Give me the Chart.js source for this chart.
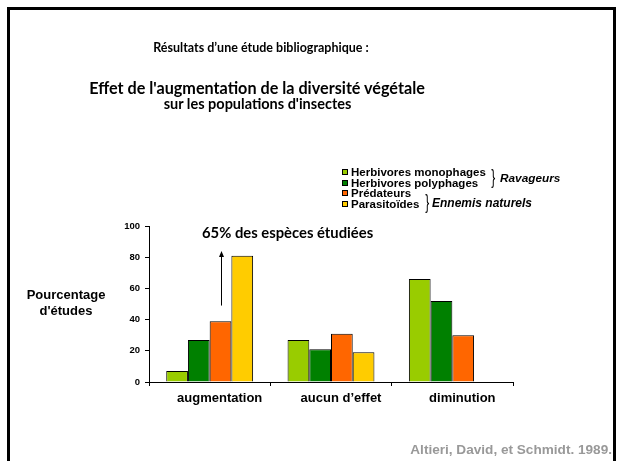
<!DOCTYPE html>
<html>
<head>
<meta charset="utf-8">
<script src="https://cdn.jsdelivr.net/npm/chart.js@4"></script>
<style>
  body { margin: 0; width: 617px; height: 461px; overflow: hidden; background: #fff; position: relative; }
  #frame { position: absolute; left: 7px; top: 7px; width: 609px; height: 480px; box-sizing: border-box; border: 3px solid #000; }
  canvas { position: absolute; left: 0; top: 0; }
  .t { position: absolute; white-space: nowrap; color: #000; }
  .comic { font-family: Lato, sans-serif; font-weight: bold; }
  .arial { font-family: "Liberation Sans", Arial, sans-serif; font-weight: bold; }
  #legend { position: absolute; left: 342px; top: 167px; font-size: 11.5px; line-height: 10.5px; }
  #legend .sw { display: inline-block; width: 4px; height: 4px; border: 1px solid #000; margin-right: 3px; vertical-align: 1px; }
  .brace { position: absolute; font-family: "Liberation Sans", sans-serif; font-weight: normal; font-size: 20px; line-height: 20px; transform: scaleX(0.6); }
</style>
</head>
<body>
<div id="frame"></div>
<canvas id="myChart" width="617" height="461"></canvas>

<div class="t comic" style="left:0;width:522px;text-align:center;top:40px;font-size:12.5px;line-height:16px;">Résultats d’une étude bibliographique :</div>
<div class="t comic" style="left:0;width:514px;text-align:center;top:78px;font-size:16.2px;line-height:20px;">Effet de l'augmentation de la diversité végétale</div>
<div class="t comic" style="left:0;width:515px;text-align:center;top:95px;font-size:14.5px;line-height:18px;">sur les populations d'insectes</div>

<div id="legend" class="t arial"></div>
<div class="brace" style="left:490px;top:167px;">}</div>
<div class="t arial" style="left:500px;top:171px;font-size:11.8px;font-style:italic;">Ravageurs</div>
<div class="brace" style="left:424px;top:192px;">}</div>
<div class="t arial" style="left:432px;top:196px;font-size:12px;font-style:italic;">Ennemis naturels</div>

<div class="t comic" style="left:202px;top:223px;font-size:14.8px;line-height:18px;">65% des espèces étudiées</div>

<div class="t arial" style="left:16px;width:100px;text-align:center;top:287px;font-size:13px;line-height:16px;">Pourcentage<br>d'études</div>

<div class="t arial" style="right:5px;top:442px;font-size:13.6px;color:#999;">Altieri, David, et Schmidt. 1989.</div>

<script>
const categories = ['augmentation', 'aucun d’effet', 'diminution'];
const seriesNames = ['Herbivores monophages', 'Herbivores polyphages', 'Prédateurs', 'Parasitoïdes'];
const seriesColors = ['#99CC00', '#008000', '#FF6600', '#FFCC00'];
const monophages = [7, 27, 66];
const polyphages = [27, 21, 52];
const predateurs = [39, 31, 30];
const parasitoides = [81, 19, null];
const yTicks = [0, 20, 40, 60, 80, 100];
// arrow over "augmentation", from / to in %
const arrowFrom = 49;
const arrowTo = 84;

const seriesValues = [monophages, polyphages, predateurs, parasitoides];

// legend
const legendEl = document.getElementById('legend');
legendEl.innerHTML = seriesNames.map((n, i) =>
  '<div><span class="sw" style="background:' + seriesColors[i] + '"></span>' + n + '</div>'
).join('');

const arrowPlugin = {
  id: 'arrow',
  afterDatasetsDraw(chart) {
    const c = chart.ctx;
    const bar = chart.getDatasetMeta(2).data[0];
    const y = chart.scales.y;
    const x = Math.round(bar.x) + 0.5;
    const y1 = y.getPixelForValue(arrowFrom);
    const y2 = y.getPixelForValue(arrowTo);
    c.save();
    c.strokeStyle = '#000';
    c.fillStyle = '#000';
    c.lineWidth = 1;
    c.beginPath();
    c.moveTo(x, y1);
    c.lineTo(x, y2 + 5);
    c.stroke();
    c.beginPath();
    c.moveTo(x, y2);
    c.lineTo(x - 2.5, y2 + 6);
    c.lineTo(x + 2.5, y2 + 6);
    c.closePath();
    c.fill();
    c.restore();
  }
};

const tickFont = { family: 'Liberation Sans', weight: 'bold', size: 9.5 };

var myChart = document.getElementById('myChart').getContext('2d');
var newChart = new Chart(myChart, {
  type: 'bar',
  data: {
    labels: categories,
    datasets: seriesNames.map((n, i) => ({
      label: n,
      data: seriesValues[i],
      backgroundColor: seriesColors[i],
      borderColor: '#000',
      borderWidth: 1,
      categoryPercentage: 0.716,
      barPercentage: 1
    }))
  },
  options: {
    responsive: false,
    animation: false,
    layout: { padding: { left: 109, right: 104, top: 226, bottom: 49 } },
    plugins: {
      legend: { display: false },
      tooltip: { enabled: false }
    },
    scales: {
      x: {
        grid: { drawOnChartArea: false, color: '#000', tickLength: 4, offset: true },
        border: { color: '#000', width: 1 },
        ticks: {
          font: { family: 'Liberation Sans', weight: 'bold', size: 13 },
          color: '#000', padding: 5, labelOffset: 10, maxRotation: 0
        },
        afterFit(s) { s.height = 30; }
      },
      y: {
        min: 0,
        max: 100,
        afterBuildTicks(s) { s.ticks = yTicks.map(v => ({ value: v })); },
        grid: { drawOnChartArea: false, color: '#000', tickLength: 4 },
        border: { color: '#000', width: 1 },
        ticks: { font: tickFont, color: '#000', padding: 5 },
        afterFit(s) { s.width = 40; }
      }
    }
  },
  plugins: [arrowPlugin]
});
</script>
</body>
</html>
